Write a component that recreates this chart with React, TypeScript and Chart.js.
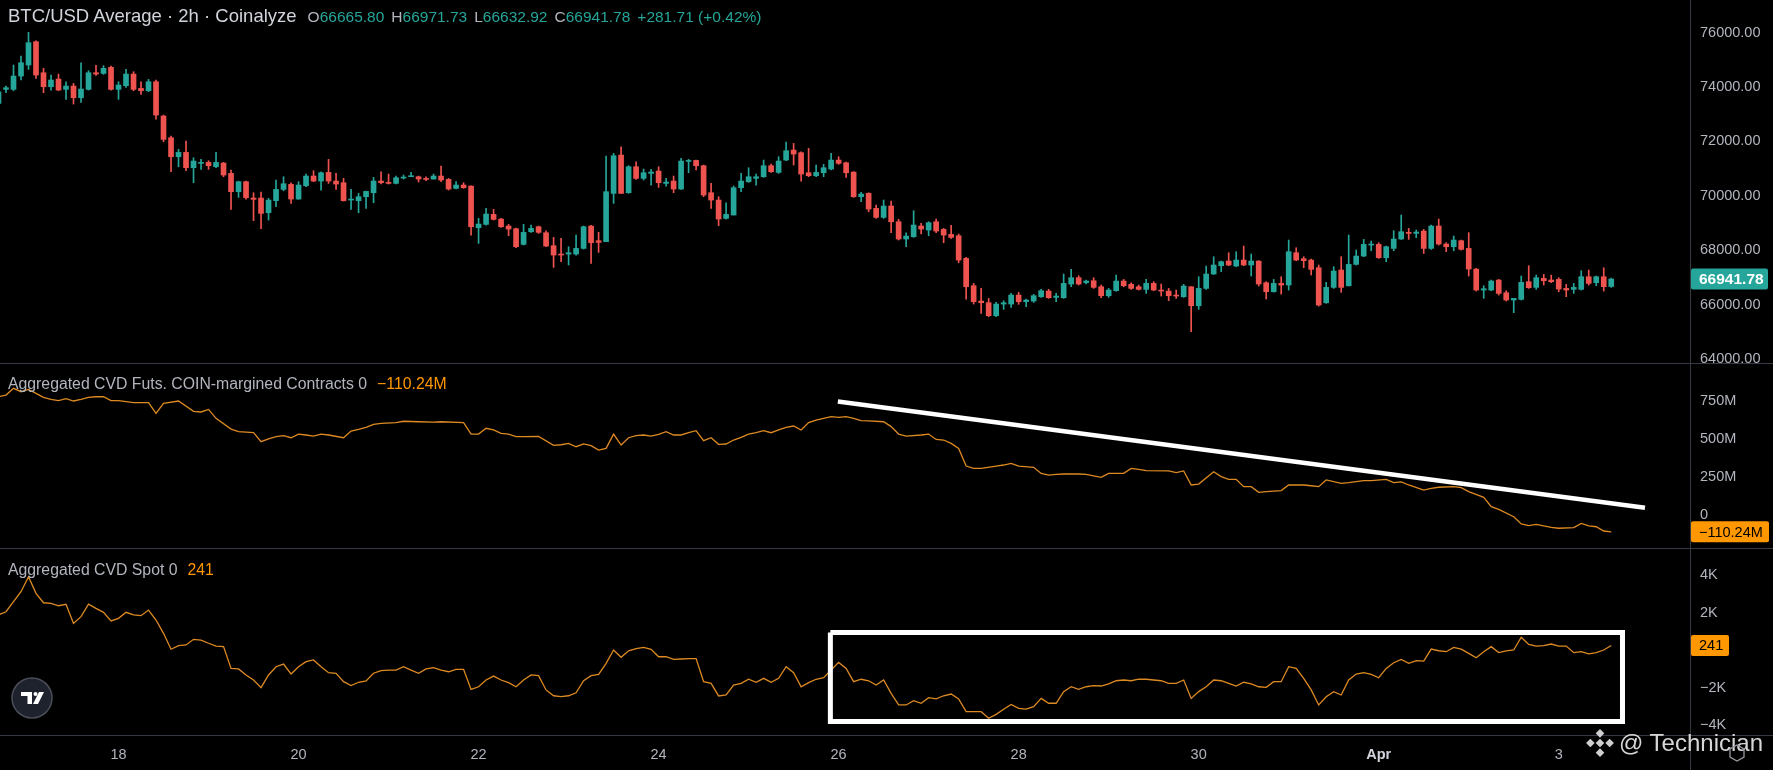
import React, { useEffect, useRef } from 'react';
import { Chart, registerables } from 'chart.js';

Chart.register(...registerables);

// ---------------- DATA (2h candles, index 0 = Mar 16 16:00) ----------------
const candleOpen = [
  73400, 73916, 73916, 74406, 74811, 75669, 74528, 74014, 74295, 73916,
  74038, 73609, 73916, 74528, 74504, 74725, 73916, 74050, 74479, 73952,
  73866, 74197, 72935, 72138, 71439, 71598, 71034, 71194, 71230, 71071,
  71206, 70826, 70152, 70520, 69919, 69919, 69379, 69821, 70237, 70421,
  69882, 70372, 70728, 70544, 70862, 70544, 70483, 69845, 69821, 69968,
  70115, 70544, 70495, 70458, 70654, 70703, 70703, 70642, 70617, 70728,
  70605, 70274, 70397, 70360, 68827, 68950, 69318, 69146, 68889, 68791,
  68215, 68680, 68864, 68644, 68166, 67859, 67859, 67859, 68067, 68889,
  68350, 68313, 70090, 71500, 70115, 71071, 70642, 70826, 70912, 70458,
  70544, 70250, 71267, 71304, 71108, 70115, 69845, 69171, 69294, 70299,
  70520, 70642, 70703, 71108, 70862, 71316, 71684, 71586, 70850, 70740,
  70850, 70985, 71316, 71218, 70875, 69968, 70090, 69539, 69208, 69625,
  69048, 68411, 68497, 68889, 68742, 69048, 68766, 68582, 68533, 67700,
  66694, 66130, 66069, 65591, 66020, 66020, 66351, 66106, 66130, 66290,
  66498, 66265, 66253, 66756, 66989, 66805, 66878, 66657, 66327, 66510,
  66866, 66744, 66657, 66560, 66780, 66535, 66498, 66351, 66290, 66657,
  65958, 66596, 67124, 67430, 67602, 67418, 67638, 67455, 67602, 66805,
  66473, 66780, 66719, 67908, 67687, 67638, 67356, 66069, 66633, 67271,
  66694, 67479, 67785, 68190, 68215, 67724, 68067, 68411, 68656, 68619,
  68705, 68067, 68889, 68227, 68129, 68350, 68067, 67307, 66535, 66535,
  66903, 66437, 66168, 66192, 66842, 66633, 66964, 66903, 66927, 66596,
  66560, 66560, 67025, 66805, 67025, 66665.80,
];
const candleHigh = [
  73952, 74038, 74811, 75141, 76012, 75705, 74688, 74443, 74479, 74197,
  74136, 74896, 74602, 74798, 74786, 74773, 74197, 74651, 74565, 74197,
  74283, 74259, 72972, 72199, 71709, 72015, 71402, 71341, 71292, 71598,
  71230, 70949, 70544, 70544, 70115, 70139, 69906, 70581, 70703, 70483,
  70520, 70801, 70924, 70887, 71341, 70826, 70642, 70237, 70090, 70176,
  70679, 70887, 70801, 70728, 70765, 70862, 70728, 70703, 70801, 71096,
  70642, 70520, 70483, 70372, 69171, 69539, 69502, 69171, 68950, 68815,
  68950, 68925, 68889, 68717, 68472, 68435, 68129, 68558, 68889, 68914,
  68656, 71464, 71562, 71807, 71108, 71255, 70985, 70973, 71071, 70642,
  70728, 71378, 71341, 71316, 71132, 70458, 69968, 69747, 70360, 70826,
  71034, 70801, 71316, 71169, 71439, 71978, 71929, 71623, 71745, 71132,
  71157, 71562, 71439, 71243, 70887, 70127, 70115, 69661, 69845, 69808,
  69134, 68644, 69453, 68987, 69048, 69146, 68803, 68914, 68595, 67736,
  66780, 66596, 66228, 66082, 66143, 66413, 66449, 66204, 66376, 66560,
  66560, 66413, 67124, 67295, 67062, 66903, 66989, 66719, 66596, 67087,
  66927, 66805, 66719, 66927, 66842, 66756, 66596, 66535, 66744, 66657,
  67025, 67418, 67761, 67602, 67908, 67945, 68153, 67859, 67614, 66842,
  66927, 67025, 68374, 68092, 67761, 67675, 67455, 66817, 67393, 67761,
  68558, 68006, 68399, 68338, 68276, 68153, 68717, 69294, 68803, 68742,
  68766, 68925, 69146, 68276, 68521, 68374, 68644, 67332, 66694, 66903,
  66927, 66510, 66228, 67050, 67430, 67087, 67111, 67087, 66989, 66744,
  66780, 67247, 67271, 67050, 67356, 66971.73,
];
const candleLow = [
  73253, 73793, 73866, 74259, 74651, 74320, 73793, 73891, 73866, 73548,
  73376, 73437, 73891, 74430, 74467, 73891, 73548, 73989, 73866, 73731,
  73830, 72824, 71991, 70887, 71071, 70924, 70483, 70973, 70973, 71034,
  70703, 69502, 69943, 69882, 69085, 68791, 69110, 69600, 70188, 69722,
  69870, 70335, 70520, 70213, 70458, 70237, 69808, 69502, 69379, 69539,
  69747, 70434, 70434, 70434, 70617, 70703, 70507, 70556, 70617, 70520,
  70213, 70250, 70274, 68558, 68251, 68925, 69110, 68840, 68533, 68092,
  68190, 68656, 68619, 68129, 67368, 67577, 67455, 67822, 68043, 67516,
  67920, 68313, 69722, 70090, 70090, 70605, 70581, 70397, 70311, 70360,
  70115, 70237, 70850, 70949, 69968, 69539, 68901, 69146, 69294, 70152,
  70495, 70397, 70679, 70862, 70826, 71292, 71132, 70544, 70703, 70703,
  70703, 70949, 71157, 70679, 69943, 69784, 69416, 69171, 69171, 68644,
  68374, 68129, 68472, 68595, 68533, 68644, 68276, 68435, 67540, 66204,
  66020, 65677, 65555, 65555, 65824, 65897, 66008, 65922, 66082, 66265,
  66228, 66106, 66228, 66657, 66719, 66756, 66596, 66253, 66265, 66498,
  66657, 66560, 66535, 66413, 66510, 66314, 66143, 66228, 66265, 65002,
  65824, 66560, 67111, 67209, 67430, 67393, 67430, 67050, 66682, 66204,
  66461, 66388, 66535, 67614, 67356, 67087, 65946, 66045, 66596, 66449,
  66682, 67455, 67761, 67981, 67700, 67577, 67981, 68399, 68399, 68460,
  67884, 68031, 68190, 67945, 67981, 68006, 67050, 66498, 66228, 66510,
  66351, 66130, 65702, 66168, 66596, 66560, 66719, 66805, 66473, 66290,
  66413, 66535, 66719, 66694, 66498, 66632.92,
];
const candleClose = [
  73830, 73977, 74406, 74896, 75632, 74443, 74014, 74259, 73891, 74038,
  73609, 73928, 74528, 74479, 74688, 73916, 74075, 74479, 73916, 73866,
  74197, 72972, 72077, 71439, 71598, 71034, 71279, 71218, 71108, 71230,
  70765, 70152, 70520, 69931, 69870, 69355, 69845, 70237, 70446, 69882,
  70397, 70728, 70544, 70850, 70544, 70434, 69821, 69870, 69968, 70164,
  70544, 70483, 70458, 70666, 70679, 70728, 70617, 70605, 70728, 70581,
  70250, 70397, 70299, 68864, 68962, 69330, 69134, 68864, 68778, 68129,
  68656, 68803, 68656, 68153, 67822, 67822, 67908, 68067, 68864, 68276,
  68288, 70152, 71476, 70090, 71071, 70642, 70850, 70875, 70483, 70507,
  70250, 71279, 71304, 71108, 70029, 69845, 69146, 69318, 70299, 70544,
  70703, 70703, 71108, 70887, 71279, 71660, 71537, 70801, 70740, 70862,
  71034, 71316, 71194, 70850, 69968, 70066, 69514, 69208, 69625, 69048,
  68411, 68521, 68925, 68778, 69012, 68705, 68558, 68472, 67638, 66657,
  66106, 66069, 65591, 66020, 66069, 66351, 66106, 66168, 66327, 66510,
  66253, 66314, 66780, 66989, 66756, 66866, 66633, 66327, 66535, 66866,
  66694, 66596, 66560, 66780, 66535, 66498, 66327, 66314, 66682, 65958,
  66596, 67124, 67455, 67577, 67455, 67638, 67455, 67602, 66756, 66473,
  66780, 66719, 67945, 67638, 67614, 67295, 65983, 66633, 67234, 66633,
  67479, 67785, 68215, 68227, 67724, 68129, 68411, 68680, 68619, 68668,
  68067, 68889, 68227, 68129, 68374, 68031, 67307, 66535, 66584, 66866,
  66413, 66168, 66228, 66817, 66621, 66989, 66878, 66842, 66572, 66535,
  66633, 67025, 66780, 67025, 66660.07, 66941.78,
];

// Aggregated CVD Futs. COIN-margined (millions): [candle index, value]
const futuresCvd = [
  [0, 776], [1, 787], [2, 831], [3, 809], [4, 824], [5, 798], [6, 772], [7, 759], [8, 750], [9, 763],
  [10, 748], [11, 759], [12, 772], [13, 776], [14, 776], [15, 750], [16, 750], [18, 737], [20, 737], [21, 667],
  [22, 733], [24, 748], [26, 680], [27, 676], [28, 693], [29, 634], [31, 564], [32, 547], [34, 540], [35, 481],
  [36, 499], [37, 514], [38, 521], [39, 507], [40, 531], [41, 525], [42, 518], [43, 531], [44, 525], [46, 507],
  [47, 551], [48, 562], [49, 575], [50, 595], [51, 601], [53, 606], [54, 615], [56, 612], [58, 610], [59, 612],
  [62, 606], [63, 531], [64, 531], [65, 569], [66, 558], [67, 536], [68, 531], [69, 514], [70, 514], [72, 516],
  [74, 457], [75, 461], [76, 470], [77, 448], [78, 466], [79, 455], [80, 426], [81, 437], [82, 531], [83, 459],
  [84, 507], [85, 521], [86, 525], [87, 518], [88, 529], [89, 547], [90, 525], [91, 525], [92, 540], [93, 553],
  [94, 488], [95, 507], [96, 464], [97, 466], [98, 492], [99, 510], [100, 531], [101, 540], [102, 553], [103, 540],
  [104, 558], [105, 575], [106, 584], [107, 558], [108, 606], [109, 623], [110, 634], [111, 645], [112, 641], [113, 645],
  [114, 634], [115, 619], [116, 617], [118, 612], [119, 580], [120, 531], [121, 518], [123, 525], [124, 531], [125, 496],
  [126, 492], [127, 470], [128, 437], [129, 321], [130, 306], [131, 306], [133, 321], [134, 328], [135, 339], [136, 321],
  [138, 313], [139, 273], [140, 262], [141, 267], [142, 269], [144, 269], [145, 267], [147, 247], [148, 273], [150, 273],
  [151, 306], [152, 300], [153, 291], [156, 289], [157, 278], [158, 289], [159, 197], [160, 203], [162, 284], [163, 252],
  [164, 234], [165, 234], [166, 186], [167, 186], [168, 149], [169, 153], [171, 160], [172, 197], [174, 197], [175, 192],
  [176, 186], [177, 230], [179, 208], [180, 212], [182, 225], [183, 225], [185, 234], [186, 212], [187, 217], [188, 197],
  [190, 164], [191, 175], [192, 182], [194, 186], [195, 179], [196, 153], [198, 116], [199, 55], [200, 37], [202, -11],
  [203, -59], [204, -70], [205, -61], [206, -72], [207, -81], [208, -87], [210, -83], [211, -55], [212, -72], [213, -77],
  [214, -105], [215, -110.24],
];

// Aggregated CVD Spot: [candle index, value]
const spotCvd = [
  [0, 1870], [1, 2040], [2, 2580], [3, 3110], [4, 3910], [5, 3020], [6, 2520], [7, 2490], [8, 2360], [9, 2440],
  [10, 1420], [11, 1780], [12, 2450], [13, 2220], [14, 2010], [15, 1550], [16, 1690], [17, 2010], [18, 1870], [19, 1830],
  [20, 2130], [21, 1600], [22, 890], [23, 40], [24, 230], [25, 270], [26, 570], [27, 530], [28, 360], [29, 210],
  [30, 180], [31, -980], [32, -1010], [33, -1330], [34, -1600], [35, -2010], [36, -1330], [37, -890], [38, -750], [39, -1280],
  [40, -890], [41, -620], [42, -530], [43, -890], [44, -1210], [45, -1240], [46, -1690], [47, -1900], [48, -1720], [49, -1650],
  [50, -1240], [51, -1100], [52, -1070], [53, -1070], [54, -890], [55, -1070], [56, -1240], [57, -1010], [58, -940], [59, -1070],
  [60, -1160], [61, -1030], [62, -1030], [63, -2100], [64, -1960], [65, -1600], [66, -1390], [67, -1600], [68, -1740], [69, -1960],
  [70, -1600], [71, -1330], [72, -1370], [73, -2130], [74, -2440], [75, -2490], [76, -2440], [77, -2280], [78, -1640], [79, -1370],
  [80, -1300], [81, -710], [82, 0], [83, -390], [84, -40], [85, 70], [86, 140], [87, 40], [88, -360], [89, -360],
  [90, -500], [91, -480], [92, -460], [93, -460], [94, -1690], [95, -1780], [96, -2450], [97, -2400], [98, -1870], [99, -1780],
  [100, -1560], [101, -1720], [102, -1510], [103, -1720], [104, -1510], [105, -890], [106, -1210], [107, -1960], [108, -1740], [109, -1560],
  [110, -1480], [111, -1070], [112, -660], [113, -980], [114, -1690], [115, -1560], [116, -1640], [117, -1870], [118, -1600], [119, -2310],
  [120, -2930], [121, -2930], [122, -2700], [123, -2840], [124, -2540], [125, -2610], [126, -2440], [127, -2350], [128, -2610], [129, -3290],
  [130, -3290], [131, -3290], [132, -3640], [133, -3430], [134, -3160], [135, -2900], [136, -3110], [137, -3150], [138, -3020], [139, -2580],
  [140, -2840], [141, -2840], [142, -2220], [143, -1960], [144, -2100], [145, -1960], [146, -1900], [147, -1920], [148, -1810], [149, -1640],
  [150, -1600], [151, -1640], [152, -1550], [153, -1560], [155, -1640], [156, -1780], [157, -1780], [158, -1600], [159, -2580], [160, -2220],
  [161, -1960], [162, -1600], [163, -1640], [164, -1780], [165, -1920], [166, -1720], [167, -1810], [168, -1960], [169, -1990], [170, -1690],
  [171, -1690], [172, -890], [173, -980], [174, -1510], [175, -2130], [176, -2930], [177, -2490], [178, -2220], [179, -2400], [180, -1600],
  [181, -1280], [182, -1210], [183, -1300], [184, -1480], [185, -980], [186, -680], [187, -500], [188, -710], [189, -570], [190, -590],
  [191, 50], [192, -40], [193, -90], [194, 140], [195, 50], [196, -180], [197, -410], [198, -90], [199, 180], [200, -140],
  [201, -50], [202, 0], [203, 680], [204, 300], [205, 210], [206, 230], [207, 320], [208, 210], [209, 210], [210, -140],
  [211, -90], [212, -210], [213, -140], [214, 0], [215, 241],
];

// hand-drawn annotations (in data units)
const futuresTrendLine = [[111.9, 745], [219.5, 48]];
const spotBoxCorners = [[110.9, 930], [216.5, 930], [216.5, -3810], [110.9, -3810], [110.9, 930]];

// axes
const priceTicks = [64000, 66000, 68000, 70000, 72000, 74000, 76000];
const futuresTicks = [0, 250, 500, 750];
const spotTicks = [-4000, -2000, 2000, 4000];
const dateTickIndex = [16, 40, 64, 88, 112, 136, 160, 184, 208];
const dateTickLabels = ['18', '20', '22', '24', '26', '28', '30', 'Apr', '3'];

// visible ranges
const X_RANGE = [0.2, 225.5];
const PRICE_RANGE = [63852, 77203];
const FUTURES_RANGE = [-216.5, 990.8];
const SPOT_RANGE = [-4533, 5387];

// ---------------- STYLE ----------------
const FONT = "'Liberation Sans', Arial, sans-serif";
const UP = '#26a69a';
const DOWN = '#ef5350';
const ORANGE = '#ff9800';
const LINE_ORANGE = '#dd8a22';
const AXIS_TEXT = '#b2b5be';
const SEP = '#363a45';
const AXIS_W = 83;
const MINUS = '\u2212';

const fmtSigned = (v: number, s: string) => (v < 0 ? MINUS : '') + s;

const lastValuePlugin = {
  id: 'lastValue',
  afterDraw(chart: any, _a: any, opts: any) {
    if (!opts || opts.value == null) return;
    const y = chart.scales.y.getPixelForValue(opts.value);
    const ctx = chart.ctx;
    const left = chart.chartArea.right + 1;
    const h = 21;
    ctx.save();
    ctx.fillStyle = opts.bg;
    ctx.beginPath();
    if (ctx.roundRect) ctx.roundRect(left, y - h / 2, opts.width, h, 2);
    else ctx.rect(left, y - h / 2, opts.width, h);
    ctx.fill();
    ctx.fillStyle = opts.fg;
    ctx.font = `${opts.weight || 'normal'} ${opts.size || 14}px ${FONT}`;
    ctx.textBaseline = 'middle';
    ctx.textAlign = 'left';
    ctx.fillText(opts.text, left + 8, y + 1);
    ctx.restore();
  },
};

function yAxis(range: number[], ticks: number[], fmt: (v: number) => string) {
  return {
    position: 'right',
    min: range[0],
    max: range[1],
    grid: { display: false, drawTicks: false, tickLength: 0 },
    border: { display: false },
    ticks: {
      color: AXIS_TEXT,
      font: { size: 14.5, family: FONT },
      padding: 10,
      autoSkip: false,
      callback: (v: number) => fmt(v),
    },
    afterBuildTicks: (s: any) => {
      s.ticks = ticks.map((v) => ({ value: v }));
    },
    afterFit: (s: any) => {
      s.width = AXIS_W;
      s.paddingTop = 0;
      s.paddingBottom = 0;
    },
  };
}

function xAxis(show: boolean) {
  const aprIdx = dateTickLabels.indexOf('Apr');
  return {
    type: 'linear',
    min: X_RANGE[0],
    max: X_RANGE[1],
    offset: false,
    display: show,
    grid: { display: false, drawTicks: false, tickLength: 0 },
    border: { display: false },
    ticks: {
      color: (c: any) => (c.index === aprIdx ? '#d1d4dc' : AXIS_TEXT),
      font: (c: any) => ({ size: 14.5, family: FONT, weight: c.index === aprIdx ? 'bold' : 'normal' }),
      padding: 11,
      maxRotation: 0,
      autoSkip: false,
      callback: (v: number) => {
        const k = dateTickIndex.indexOf(v);
        return k >= 0 ? dateTickLabels[k] : '';
      },
    },
    afterBuildTicks: (s: any) => {
      s.ticks = dateTickIndex.map((v) => ({ value: v }));
    },
    afterFit: (s: any) => {
      if (show) s.height = 35;
      s.paddingLeft = 0;
      s.paddingRight = 0;
    },
  };
}

const baseOptions = {
  responsive: false,
  animation: false,
  events: [],
  layout: { padding: 0 },
};

export default function App() {
  const topRef = useRef<HTMLCanvasElement>(null);
  const midRef = useRef<HTMLCanvasElement>(null);
  const botRef = useRef<HTMLCanvasElement>(null);

  useEffect(() => {
    Chart.defaults.font.family = FONT;
    const colors = candleClose.map((c, i) => (c >= candleOpen[i] ? UP : DOWN));
    const bodies = candleOpen.map((o, i) => ({ x: i, y: [o, candleClose[i]] }));
    const wicks = candleLow.map((l, i) => ({ x: i, y: [l, candleHigh[i]] }));
    const lastClose = candleClose[candleClose.length - 1];

    const top = new Chart(topRef.current as any, {
      type: 'bar',
      data: {
        datasets: [
          { data: bodies, backgroundColor: colors, barThickness: 5, minBarLength: 1, grouped: false, order: 0, borderWidth: 0 },
          { data: wicks, backgroundColor: colors, barThickness: 1, grouped: false, order: 1, borderWidth: 0 },
        ],
      } as any,
      options: {
        ...baseOptions,
        scales: { x: xAxis(false), y: yAxis(PRICE_RANGE, priceTicks, (v) => v.toFixed(2)) },
        plugins: {
          legend: { display: false },
          tooltip: { enabled: false },
          lastValue: { value: lastClose, text: lastClose.toFixed(2), bg: UP, fg: '#ffffff', width: 77, size: 15.5, weight: 'bold' },
        },
      } as any,
      plugins: [lastValuePlugin],
    });

    const lastFut = futuresCvd[futuresCvd.length - 1][1];
    const mid = new Chart(midRef.current as any, {
      type: 'line',
      data: {
        datasets: [
          {
            data: futuresTrendLine.map(([x, y]) => ({ x, y })),
            borderColor: '#ffffff', borderWidth: 4.5, pointRadius: 0, tension: 0, order: 0, borderCapStyle: 'butt',
          },
          {
            data: futuresCvd.map(([x, y]) => ({ x, y })),
            borderColor: LINE_ORANGE, borderWidth: 1.3, pointRadius: 0, tension: 0, order: 1,
          },
        ],
      } as any,
      options: {
        ...baseOptions,
        scales: {
          x: xAxis(false),
          y: yAxis(FUTURES_RANGE, futuresTicks, (v) => (v === 0 ? '0' : fmtSigned(v, Math.abs(v) + 'M'))),
        },
        plugins: {
          legend: { display: false },
          tooltip: { enabled: false },
          lastValue: { value: lastFut, text: fmtSigned(lastFut, Math.abs(lastFut).toFixed(2) + 'M'), bg: ORANGE, fg: '#000000', width: 78, size: 14.5 },
        },
      } as any,
      plugins: [lastValuePlugin],
    });

    const lastSpot = spotCvd[spotCvd.length - 1][1];
    const bot = new Chart(botRef.current as any, {
      type: 'line',
      data: {
        datasets: [
          {
            data: spotBoxCorners.map(([x, y]) => ({ x, y })),
            borderColor: '#ffffff', borderWidth: 5, pointRadius: 0, tension: 0, order: 0, borderJoinStyle: 'miter',
          },
          {
            data: spotCvd.map(([x, y]) => ({ x, y })),
            borderColor: LINE_ORANGE, borderWidth: 1.3, pointRadius: 0, tension: 0, order: 1,
          },
        ],
      } as any,
      options: {
        ...baseOptions,
        scales: {
          x: xAxis(true),
          y: yAxis(SPOT_RANGE, spotTicks, (v) => fmtSigned(v, Math.abs(v) / 1000 + 'K')),
        },
        plugins: {
          legend: { display: false },
          tooltip: { enabled: false },
          lastValue: { value: lastSpot, text: String(lastSpot), bg: ORANGE, fg: '#000000', width: 38, size: 14.5 },
        },
      } as any,
      plugins: [lastValuePlugin],
    });

    return () => {
      top.destroy();
      mid.destroy();
      bot.destroy();
    };
  }, []);

  const n = candleClose.length;
  const o = candleOpen[n - 1];
  const h = candleHigh[n - 1];
  const l = candleLow[n - 1];
  const c = candleClose[n - 1];
  const chg = c - candleClose[n - 2];
  const pct = (chg / candleClose[n - 2]) * 100;
  const sign = chg >= 0 ? '+' : MINUS;
  const lastFut = futuresCvd[futuresCvd.length - 1][1];
  const lastSpot = spotCvd[spotCvd.length - 1][1];

  const abs: any = { position: 'absolute', pointerEvents: 'none', whiteSpace: 'nowrap' };
  const lbl = { color: '#b2b5be' };
  const val = { color: UP };

  return (
    <div style={{ position: 'fixed', left: 0, top: 0, width: 1773, height: 770, background: '#000', overflow: 'hidden', fontFamily: FONT }}>
      <canvas ref={topRef} width={1773} height={363} style={{ position: 'absolute', left: 0, top: 0, width: 1773, height: 363 }} />
      <canvas ref={midRef} width={1773} height={184} style={{ position: 'absolute', left: 0, top: 364, width: 1773, height: 184 }} />
      <canvas ref={botRef} width={1773} height={221} style={{ position: 'absolute', left: 0, top: 549, width: 1773, height: 221 }} />

      <div style={{ ...abs, left: 0, top: 363, width: 1773, height: 1, background: SEP }} />
      <div style={{ ...abs, left: 0, top: 548, width: 1773, height: 1, background: SEP }} />
      <div style={{ ...abs, left: 0, top: 735, width: 1773, height: 1, background: SEP }} />
      <div style={{ ...abs, left: 1690, top: 0, width: 1, height: 770, background: SEP }} />

      <div style={{ ...abs, left: 8, top: 5, display: 'flex', alignItems: 'baseline' }}>
        <span style={{ fontSize: 18.5, color: '#d1d4dc' }}>BTC/USD Average · 2h · Coinalyze</span>
        <span style={{ fontSize: 15.5, marginLeft: 11 }}>
          <span style={lbl}>O</span><span style={val}>{o.toFixed(2)}</span>
          <span style={{ ...lbl, marginLeft: 7 }}>H</span><span style={val}>{h.toFixed(2)}</span>
          <span style={{ ...lbl, marginLeft: 7 }}>L</span><span style={val}>{l.toFixed(2)}</span>
          <span style={{ ...lbl, marginLeft: 7 }}>C</span><span style={val}>{c.toFixed(2)}</span>
          <span style={{ ...val, marginLeft: 7 }}>{sign}{Math.abs(chg).toFixed(2)} ({sign}{Math.abs(pct).toFixed(2)}%)</span>
        </span>
      </div>

      <div style={{ ...abs, left: 8, top: 375, fontSize: 15.8 }}>
        <span style={{ color: '#b2b5be' }}>Aggregated CVD Futs. COIN-margined Contracts 0</span>
        <span style={{ color: ORANGE, marginLeft: 10 }}>{fmtSigned(lastFut, Math.abs(lastFut).toFixed(2) + 'M')}</span>
      </div>

      <div style={{ ...abs, left: 8, top: 561, fontSize: 15.8 }}>
        <span style={{ color: '#b2b5be' }}>Aggregated CVD Spot 0</span>
        <span style={{ color: ORANGE, marginLeft: 10 }}>{String(lastSpot)}</span>
      </div>

      <svg style={{ ...abs, left: 11, top: 677 }} width={42} height={42} viewBox="0 0 42 42">
        <circle cx={21} cy={21} r={20} fill="#1e222d" stroke="#4a4e59" strokeWidth={1.5} />
        <path d="M10 15 H21 V27 H16.5 V19 H10 Z" fill="#ffffff" />
        <circle cx={24.5} cy={17} r={2} fill="#ffffff" />
        <path d="M28 15 H33 L27 27 H22 Z" fill="#ffffff" />
      </svg>

      <svg style={{ ...abs, left: 1585, top: 728 }} width={30} height={30} viewBox="0 0 28 28">
        <g fill="#cfcfcf">
          <polygon points="14,1 18,5 14,9 10,5" />
          <polygon points="14,19 18,23 14,27 10,23" />
          <polygon points="5,10 9,14 5,18 1,14" />
          <polygon points="23,10 27,14 23,18 19,14" />
          <polygon points="14,10 18,14 14,18 10,14" />
        </g>
      </svg>
      <div style={{ ...abs, left: 1619, top: 729, fontSize: 24, color: '#d6d6d6' }}>@ Technician</div>

      <svg style={{ ...abs, left: 1727, top: 743 }} width={20} height={20} viewBox="0 0 20 20">
        <polygon points="10,2 17,6 17,14 10,18 3,14 3,6" fill="none" stroke="#9598a1" strokeWidth={1.3} />
      </svg>
    </div>
  );
}
